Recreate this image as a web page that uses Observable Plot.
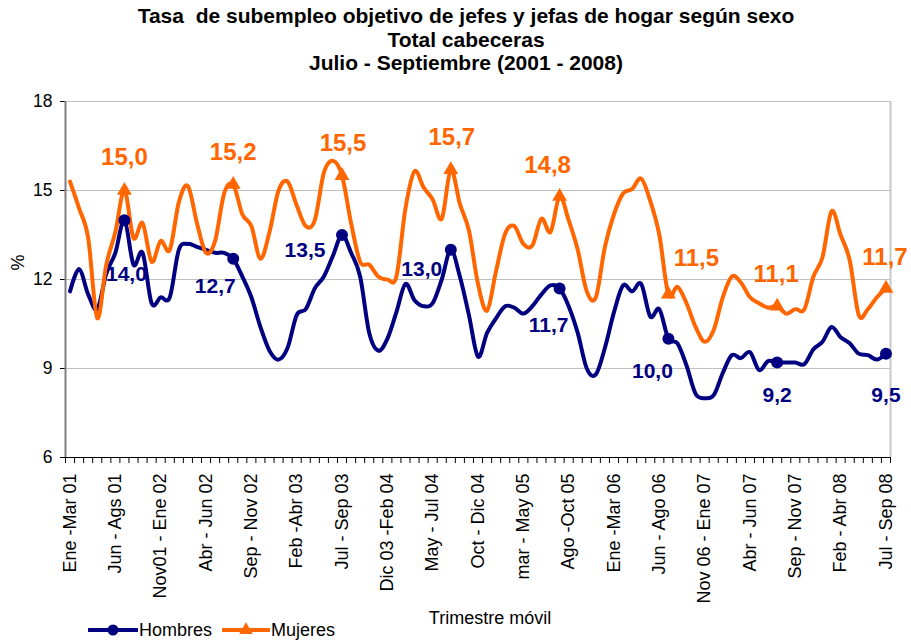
<!DOCTYPE html>
<html>
<head>
<meta charset="utf-8">
<script src="https://cdn.jsdelivr.net/npm/d3@7"></script>
<script src="https://cdn.jsdelivr.net/npm/@observablehq/plot@0.6"></script>
<style>
  body { margin: 0; background: #fff; font-family: "Liberation Sans", Arial, sans-serif; }
  #wrap { position: relative; width: 911px; height: 642px; overflow: hidden; background: #fff; }
  #title { height: 92px; box-sizing: border-box; padding-top: 4px; padding-left: 21px; text-align: center;
           font-weight: bold; font-size: 21px; line-height: 23.7px; color: #000; }
  #chart svg { display: block; }
  #legend { position: absolute; left: 88px; top: 620px; height: 20px; display: flex; align-items: center;
            font-size: 18px; color: #000; }
  #legend .item { display: flex; align-items: center; }
  #legend svg { display: block; }
</style>
</head>
<body>
<div id="wrap">
  <div id="title">Tasa&nbsp; de subempleo objetivo de jefes y jefas de hogar según sexo<br>Total cabeceras<br>Julio - Septiembre (2001 - 2008)</div>
  <div id="chart"></div>
  <div id="legend"></div>
</div>
<script>
// ---- data ----
const tickLabels = ["Ene -Mar 01","Jun - Ags 01","Nov01 - Ene 02","Abr - Jun 02","Sep - Nov 02","Feb -Abr 03",
  "Jul - Sep 03","Dic 03 -Feb 04","May - Jul 04","Oct - Dic 04","mar - May 05","Ago -Oct 05","Ene -Mar 06",
  "Jun - Ago 06","Nov 06 - Ene 07","Abr - Jun 07","Sep - Nov 07","Feb - Abr 08","Jul - Sep 08"];
const tickStep = 5; // one label every 5 rolling quarters

// rolling quarters Ene-Mar 01 ... Jul-Sep 08 (91 values)
const hombres = [
  11.6, 12.35, 11.5, 11.0, 12.2, 12.9, 14.0, 12.5, 12.9, 11.2,
  11.4, 11.4, 13.0, 13.2, 13.1, 13.0, 12.9, 12.9, 12.7, 12.1,
  11.4, 10.4, 9.6, 9.3, 9.7, 10.8, 11.0, 11.7, 12.1, 12.8,
  13.5, 12.9, 12.1, 10.2, 9.6, 10.0, 10.9, 11.85, 11.3, 11.1,
  11.2, 12.0, 13.0, 12.1, 10.8, 9.4, 10.2, 10.7, 11.1, 11.05,
  10.85, 11.1, 11.5, 11.8, 11.7, 11.1, 10.2, 9.0, 8.8, 9.7,
  10.9, 11.8, 11.6, 11.85, 10.75, 11.0, 10.0, 9.85, 9.1, 8.15,
  8.0, 8.1, 8.85, 9.45, 9.35, 9.55, 8.95, 9.25, 9.2, 9.2,
  9.2, 9.15, 9.65, 9.9, 10.4, 10.05, 9.85, 9.5, 9.45, 9.3,
  9.5
];
const mujeres = [
  15.3, 14.4, 13.4, 10.7, 12.5, 13.6, 15.0, 13.4, 13.9, 12.6,
  13.3, 13.0, 14.6, 15.15, 13.9, 12.9, 13.3, 14.9, 15.2, 14.2,
  13.8, 12.7, 13.6, 15.0, 15.3, 14.5, 13.8, 14.0, 15.6, 16.0,
  15.5, 13.9, 12.6, 12.5, 12.1, 12.0, 12.1, 14.4, 15.65, 15.1,
  14.7, 14.05, 15.7, 14.55, 13.65, 11.85, 10.95, 12.3, 13.55, 13.8,
  13.2, 13.15, 14.05, 13.6, 14.8, 14.0, 13.0, 11.6, 11.4, 13.1,
  14.2, 14.9, 15.05, 15.4, 14.65, 13.5, 11.5, 11.75, 11.2, 10.4,
  9.9, 10.3, 11.4, 12.1, 11.9, 11.4, 11.2, 11.05, 11.1, 10.85,
  11.0, 11.0, 12.1, 12.75, 14.3, 13.5, 12.65, 10.8, 11.0, 11.4,
  11.7
];
const markedYears = [2001, 2002, 2003, 2004, 2005, 2006, 2007, 2008]; // Julio - Septiembre
const yTicks = [6, 9, 12, 15, 18];

// ---- styling / label placement ----
const navy = "#000080", orange = "#FF6600";
const navyLabelOffsets = [[2, 54], [-18, 28], [-37, 15], [-29, 19], [-11, 37], [-16, 32], [0, 33], [0, 42]];
const orangeLabelOffsets = [[0, -33], [0, -32], [1, -32], [1, -32], [-12, -31], [28, -36], [-1, -32], [-1, -31]];

const n = hombres.length;
const markIdx = markedYears.map(y => (y - 2001) * 12 + 6);
const labelIdx = tickLabels.map((_, k) => k * tickStep);
const boundaries = d3.range(n + 1).map(i => i - 0.5);
const fmt = v => v.toFixed(1).replace(".", ",");
const font = "Liberation Sans, Arial, sans-serif";

const labelMarks = [];
markIdx.forEach((idx, k) => {
  labelMarks.push(Plot.text([idx], {x: d => d, y: d => hombres[d], text: d => fmt(hombres[d]),
    dx: navyLabelOffsets[k][0], dy: navyLabelOffsets[k][1], fill: navy, fontSize: 21, fontWeight: "bold"}));
  labelMarks.push(Plot.text([idx], {x: d => d, y: d => mujeres[d], text: d => fmt(mujeres[d]),
    dx: orangeLabelOffsets[k][0], dy: orangeLabelOffsets[k][1], fill: orange, fontSize: 24, fontWeight: "bold"}));
});

const chart = Plot.plot({
  width: 911,
  height: 550,
  marginLeft: 65,
  marginRight: 21,
  marginTop: 9,
  marginBottom: 185,
  style: {fontFamily: font, background: "#fff", color: "#000"},
  x: {type: "linear", domain: [-0.5, n - 0.5]},
  y: {domain: [6, 18]},
  marks: [
    Plot.gridY(yTicks.slice(1), {stroke: "#c0c0c0", strokeOpacity: 1}),
    Plot.ruleX([n - 0.5], {stroke: "#c8c8c8", strokeWidth: 2}),
    Plot.axisY({ticks: yTicks, tickSize: 5, tickPadding: 8, fontSize: 17.5, label: null}),
    Plot.axisX({ticks: boundaries, tickSize: 6, tickFormat: () => "", label: null}),
    Plot.axisX({ticks: labelIdx, tickSize: 0, tickPadding: 16, tickRotate: -90, fontSize: 18,
      tickFormat: i => tickLabels[Math.round(i / tickStep)], label: null}),
    Plot.ruleY([6], {stroke: "#000", strokeWidth: 1.2}),
    Plot.ruleX([-0.5], {stroke: "#808080", strokeWidth: 2}),
    Plot.line(hombres, {x: (d, i) => i, y: d => d, stroke: navy, strokeWidth: 4, curve: "cardinal"}),
    Plot.line(mujeres, {x: (d, i) => i, y: d => d, stroke: orange, strokeWidth: 4, curve: "cardinal"}),
    Plot.dot(markIdx, {x: d => d, y: d => hombres[d], r: 6, fill: navy}),
    Plot.dot(markIdx, {x: d => d, y: d => mujeres[d], r: 5.5, fill: orange, symbol: "triangle"}),
    ...labelMarks,
    Plot.text(["%"], {text: d => d, frameAnchor: "left", dx: -47, dy: -9, rotate: -90, fontSize: 18}),
    Plot.text(["Trimestre móvil"], {text: d => d, frameAnchor: "bottom", dx: 12, dy: 166, fontSize: 18})
  ]
});
document.getElementById("chart").appendChild(chart);

// ---- legend ----
const legend = d3.select("#legend");
const items = [
  {name: "Hombres", color: navy, symbol: "circle", width: 50, gap: 0},
  {name: "Mujeres", color: orange, symbol: "triangle", width: 48, gap: 10}
];
items.forEach(it => {
  const item = legend.append("div").attr("class", "item").style("margin-left", it.gap + "px");
  const s = item.append("svg").attr("width", it.width).attr("height", 20);
  s.append("line").attr("x1", 1).attr("x2", it.width - 1).attr("y1", 10).attr("y2", 10)
    .attr("stroke", it.color).attr("stroke-width", 4).attr("stroke-linecap", "round");
  if (it.symbol === "circle") {
    s.append("circle").attr("cx", it.width / 2).attr("cy", 10).attr("r", 5.5).attr("fill", it.color);
  } else {
    s.append("path").attr("d", d3.symbol(d3.symbolTriangle, 80)()).attr("transform", `translate(${it.width / 2},10)`)
      .attr("fill", it.color);
  }
  item.append("span").text(it.name).style("margin-left", "1px");
});
</script>
</body>
</html>
